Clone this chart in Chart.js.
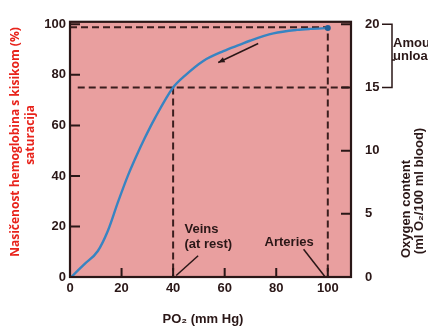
<!DOCTYPE html>
<html>
<head>
<meta charset="utf-8">
<script src="https://cdn.jsdelivr.net/npm/chart.js@4.4.0/dist/chart.umd.min.js"></script>
<style>
  html, body { margin: 0; padding: 0; background: #fff; }
</style>
</head>
<body>
<canvas id="hbChart" width="428" height="329"></canvas>
<script>
// Oxygen-hemoglobin dissociation curve
const po2Values = [0.5, 5.5, 10.8, 14.7, 18.6, 22.5, 25.8, 29, 32.9, 40, 44.6, 51.7, 59.5, 66, 69.8, 78.9, 88, 93.2, 100];
const saturationValues = [0, 5, 10.3, 18.3, 29.6, 40.2, 48, 55, 62.8, 75, 79.7, 85.5, 89.4, 92, 93.5, 96.4, 97.8, 98.2, 98.5];

// reference points (PO2, % saturation)
const veinsPoint = [40, 75];
const arteriesPoint = [100, 98.8];

// tick labels
const xTickValues = [0, 20, 40, 60, 80, 100];
const leftTickValues = [0, 20, 40, 60, 80, 100];
const rightTickValues = [0, 5, 10, 15, 20];

// amount unloaded, ml O2 / 100 ml blood
const unloadedRange = [15, 20];

const darkInk = '#2a1717';
const panelPink = '#e99f9f';
const curveBlue = '#3784c2';
const guideColor = '#3b1e1e';

const curvePoints = po2Values.map((x, i) => ({ x: x, y: saturationValues[i] }));

const dashedGuide = (pts) => ({
    data: pts,
    showLine: true,
    borderColor: guideColor,
    borderWidth: 2,
    borderDash: [7, 4],
    pointRadius: 0,
    order: 2
});

const setTicks = (values) => (scale) => {
    scale.ticks = values.map(v => ({ value: v }));
};

const tickFont = { family: 'Liberation Sans, Arial, sans-serif', size: 13, weight: 'bold' };

// draws a line between two data points
function dataLine(ctx, sx, sy, a, b) {
    ctx.beginPath();
    ctx.moveTo(sx.getPixelForValue(a[0]), sy.getPixelForValue(a[1]));
    ctx.lineTo(sx.getPixelForValue(b[0]), sy.getPixelForValue(b[1]));
    ctx.stroke();
}

function rotatedText(ctx, text, x, y, font, color) {
    ctx.save();
    ctx.translate(x, y);
    ctx.rotate(-Math.PI / 2);
    ctx.font = font;
    ctx.fillStyle = color;
    ctx.textAlign = 'center';
    ctx.textBaseline = 'middle';
    ctx.fillText(text, 0, 0);
    ctx.restore();
}

const figureExtras = {
    id: 'figureExtras',
    beforeDraw(chart) {
        const { ctx, chartArea: a } = chart;
        ctx.save();
        ctx.fillStyle = '#fff';
        ctx.fillRect(0, 0, chart.width, chart.height);
        ctx.fillStyle = panelPink;
        ctx.fillRect(a.left, a.top, a.right - a.left, a.bottom - a.top);
        ctx.restore();
    },
    afterDraw(chart) {
        const { ctx, chartArea: a } = chart;
        const sx = chart.scales.x, sy = chart.scales.y, sy2 = chart.scales.y2;
        ctx.save();

        // frame
        ctx.strokeStyle = darkInk;
        ctx.lineWidth = 2.2;
        ctx.strokeRect(a.left, a.top, a.right - a.left, a.bottom - a.top);

        // inward tick marks
        ctx.lineWidth = 2;
        ctx.beginPath();
        xTickValues.slice(1).forEach(v => {
            const px = sx.getPixelForValue(v);
            ctx.moveTo(px, a.bottom);
            ctx.lineTo(px, a.bottom - 9);
        });
        leftTickValues.slice(1).forEach(v => {
            const py = sy.getPixelForValue(v);
            ctx.moveTo(a.left, py);
            ctx.lineTo(a.left + 10, py);
        });
        rightTickValues.slice(1).forEach(v => {
            const py = sy2.getPixelForValue(v);
            ctx.moveTo(a.right, py);
            ctx.lineTo(a.right - 10, py);
        });
        ctx.stroke();

        // labels inside the panel
        ctx.fillStyle = darkInk;
        ctx.font = 'bold 13px Liberation Sans, Arial, sans-serif';
        ctx.textBaseline = 'middle';
        ctx.textAlign = 'left';
        ctx.fillText('Veins', sx.getPixelForValue(44.4), sy.getPixelForValue(18.9));
        ctx.fillText('(at rest)', sx.getPixelForValue(44.4), sy.getPixelForValue(13));
        ctx.textAlign = 'center';
        ctx.fillText('Arteries', sx.getPixelForValue(85), sy.getPixelForValue(13.5));

        ctx.lineWidth = 1.5;
        ctx.strokeStyle = darkInk;
        dataLine(ctx, sx, sy, [49.7, 8.4], [41.2, 0.6]);
        dataLine(ctx, sx, sy, [90.6, 11], [99, 0]);

        // arrow along the curve
        const tail = [73, 92.4], tip = [57.5, 84.9];
        dataLine(ctx, sx, sy, tail, tip);
        const tx = sx.getPixelForValue(tip[0]), ty = sy.getPixelForValue(tip[1]);
        const ang = Math.atan2(ty - sy.getPixelForValue(tail[1]), tx - sx.getPixelForValue(tail[0]));
        ctx.beginPath();
        ctx.moveTo(tx, ty);
        ctx.lineTo(tx - 7 * Math.cos(ang - 0.4), ty - 7 * Math.sin(ang - 0.4));
        ctx.lineTo(tx - 7 * Math.cos(ang + 0.4), ty - 7 * Math.sin(ang + 0.4));
        ctx.closePath();
        ctx.fillStyle = darkInk;
        ctx.fill();

        // bracket for amount unloaded
        const bTop = sy2.getPixelForValue(unloadedRange[1]);
        const bBot = sy2.getPixelForValue(unloadedRange[0]);
        const bx = a.right + 41;
        ctx.lineWidth = 1.5;
        ctx.beginPath();
        ctx.moveTo(a.right + 31, bTop);
        ctx.lineTo(bx, bTop);
        ctx.lineTo(bx, bBot);
        ctx.lineTo(a.right + 31, bBot);
        ctx.moveTo(bx, (bTop + bBot) / 2 + 4);
        ctx.lineTo(bx + 3, (bTop + bBot) / 2 + 4);
        ctx.stroke();
        ctx.textAlign = 'left';
        ctx.fillText('Amount', bx + 1, 43);
        ctx.fillText('unloaded', bx + 1, 56);

        // axis titles
        ctx.textAlign = 'center';
        ctx.fillText('PO\u2082 (mm Hg)', 203, 319);
        rotatedText(ctx, 'Oxygen content', 406, 209, 'bold 13px Liberation Sans, Arial, sans-serif', darkInk);
        rotatedText(ctx, '(ml O\u2082/100 ml blood)', 419, 191, 'bold 13px Liberation Sans, Arial, sans-serif', darkInk);
        rotatedText(ctx, 'Nasičenost hemoglobina s kisikom (%)', 16, 142, '700 12px "Open Sans", sans-serif', '#e8231b');
        rotatedText(ctx, 'saturacija', 31, 135, '700 12px "Open Sans", sans-serif', '#e8231b');

        ctx.restore();
    }
};

document.addEventListener('DOMContentLoaded', () => {
    const ctx = document.getElementById('hbChart').getContext('2d');
    new Chart(ctx, {
        type: 'scatter',
        data: {
            datasets: [
                {
                    data: curvePoints,
                    showLine: true,
                    borderColor: curveBlue,
                    borderWidth: 2.4,
                    cubicInterpolationMode: 'monotone',
                    pointRadius: curvePoints.map((p, i) => i === curvePoints.length - 1 ? 3 : 0),
                    pointBackgroundColor: '#1f5f98',
                    pointBorderWidth: 0,
                    order: 1
                },
                dashedGuide([{ x: 0, y: arteriesPoint[1] }, { x: arteriesPoint[0], y: arteriesPoint[1] }, { x: arteriesPoint[0], y: 0 }]),
                dashedGuide([{ x: 3, y: veinsPoint[1] }, { x: 109, y: veinsPoint[1] }]),
                dashedGuide([{ x: veinsPoint[0], y: veinsPoint[1] }, { x: veinsPoint[0], y: 0 }])
            ]
        },
        options: {
            responsive: false,
            animation: false,
            devicePixelRatio: 1,
            layout: { padding: { top: 17, left: 0, right: 0, bottom: 0 } },
            plugins: { legend: { display: false }, tooltip: { enabled: false } },
            scales: {
                x: {
                    type: 'linear',
                    position: 'bottom',
                    min: 0,
                    max: 109,
                    grid: { display: false, drawTicks: false },
                    border: { display: false },
                    afterBuildTicks: setTicks(xTickValues),
                    afterFit: (s) => { s.height = 52; },
                    ticks: { font: tickFont, color: darkInk, padding: 4, maxRotation: 0 }
                },
                y: {
                    position: 'left',
                    min: 0,
                    max: 101,
                    grid: { display: false, drawTicks: false },
                    border: { display: false },
                    afterBuildTicks: setTicks(leftTickValues),
                    afterFit: (s) => { s.width = 70; },
                    ticks: { font: tickFont, color: darkInk, padding: 4 }
                },
                y2: {
                    position: 'right',
                    min: 0,
                    max: 20.2,
                    grid: { display: false, drawTicks: false },
                    border: { display: false },
                    afterBuildTicks: setTicks(rightTickValues),
                    afterFit: (s) => { s.width = 77; },
                    ticks: { font: tickFont, color: darkInk, padding: 14 }
                }
            }
        },
        plugins: [figureExtras]
    });
});
</script>
</body>
</html>
